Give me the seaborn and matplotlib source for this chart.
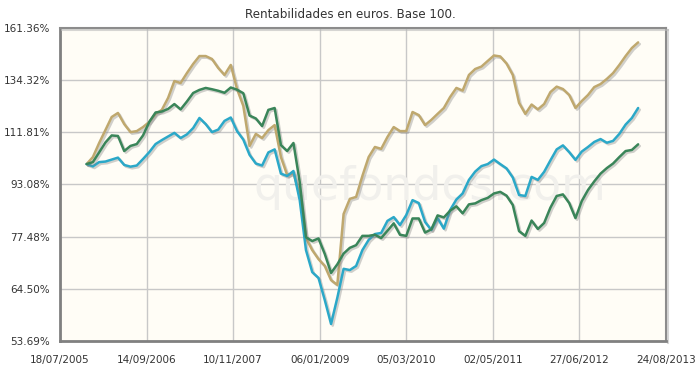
import numpy as np
import pandas as pd
import matplotlib
matplotlib.use("Agg")
import matplotlib.pyplot as plt
import matplotlib.patheffects as pe
from matplotlib.ticker import FixedLocator, FixedFormatter, NullLocator
import seaborn as sns

# ------------------------------------------------------------
# Datos (base 100, aprox. mensual nov-2005 .. abr-2013)
# ------------------------------------------------------------
fechas = pd.date_range("2005-11-25", "2013-04-10", periods=89)

serie_oro = [
    100.0, 102.5, 107.7, 112.7, 118.0, 119.7, 115.1, 111.9, 112.3, 113.9,
    116.0, 119.3, 121.0, 126.2, 133.9, 133.0, 137.7, 142.2, 146.2, 146.2,
    144.7, 140.2, 136.8, 141.7, 130.2, 122.7, 106.6, 111.2, 109.6, 112.7,
    114.7, 102.5, 96.2, 96.9, 89.7, 77.1, 73.9, 71.6, 69.9, 66.5,
    65.4, 83.9, 88.5, 89.1, 95.9, 102.5, 106.2, 105.5, 110.0, 113.9,
    112.3, 112.3, 120.1, 118.8, 114.7, 116.8, 119.3, 121.8, 126.6, 130.7,
    129.5, 136.8, 139.7, 140.9, 143.7, 146.5, 146.0, 142.4, 136.8, 124.0,
    119.3, 123.3, 121.2, 123.5, 128.8, 131.3, 130.2, 127.5, 121.8, 124.8,
    127.5, 131.1, 132.5, 134.9, 137.7, 141.7, 146.2, 150.4, 153.4,
]

serie_azul = [
    100.0, 99.2, 100.7, 100.9, 101.6, 102.3, 99.7, 99.1, 99.5, 101.8,
    104.3, 107.3, 108.8, 110.2, 111.6, 109.6, 111.0, 113.5, 117.6, 115.1,
    111.9, 112.9, 116.4, 117.8, 112.3, 109.0, 103.3, 100.2, 99.5, 104.2,
    105.3, 96.7, 95.9, 97.6, 88.1, 73.9, 68.4, 67.0, 62.0, 57.0,
    62.5, 69.2, 68.9, 69.9, 73.9, 76.6, 78.2, 78.5, 81.9, 83.0,
    80.7, 83.6, 88.1, 87.2, 81.6, 79.3, 82.7, 79.7, 85.1, 88.3,
    90.2, 94.6, 97.4, 99.3, 100.0, 101.6, 100.0, 98.5, 95.4, 89.7,
    89.4, 95.6, 94.6, 97.3, 101.3, 105.3, 106.8, 104.3, 101.5, 104.5,
    106.2, 108.1, 109.2, 107.8, 108.5, 111.2, 114.9, 117.6, 121.8,
]

serie_verde = [
    100.0, 100.7, 104.2, 107.9, 110.6, 110.4, 104.7, 106.6, 107.3, 110.6,
    116.0, 119.9, 120.3, 121.4, 123.5, 121.2, 124.6, 128.4, 129.8, 130.7,
    130.1, 129.4, 128.5, 130.9, 129.9, 128.3, 118.6, 117.4, 114.3, 121.0,
    121.8, 106.9, 104.7, 107.7, 93.9, 77.3, 76.3, 77.0, 72.9, 68.2,
    70.3, 73.0, 74.5, 75.2, 77.7, 77.7, 78.0, 77.1, 79.1, 81.2,
    78.0, 77.7, 82.6, 82.6, 78.6, 79.5, 83.5, 82.9, 84.9, 86.2,
    84.1, 86.8, 87.1, 88.1, 88.8, 90.2, 90.7, 89.5, 86.6, 79.0,
    77.7, 82.0, 79.6, 81.3, 85.8, 89.4, 89.9, 87.2, 82.7, 87.8,
    91.3, 94.1, 96.7, 98.6, 100.2, 102.5, 104.7, 105.1, 107.2,
]

y_ticks = [53.69, 64.50, 77.48, 93.08, 111.81, 134.32, 161.36]
x_ticks = ["18/07/2005", "14/09/2006", "10/11/2007", "06/01/2009",
           "05/03/2010", "02/05/2011", "27/06/2012", "24/08/2013"]

df = pd.DataFrame({"fecha": fechas, "oro": serie_oro,
                   "azul": serie_azul, "verde": serie_verde})
largo = df.melt(id_vars="fecha", var_name="serie", value_name="valor")

colores = {"oro": "#BFA86E", "azul": "#2BA8C8", "verde": "#3A8559"}

# ------------------------------------------------------------
# Figura
# ------------------------------------------------------------
sns.set_style("white")
plt.rcParams["font.family"] = ["DejaVu Sans"]

fig = plt.figure(figsize=(7.0, 3.77), dpi=100)
ax = fig.add_axes([60 / 700, 36 / 377, 606 / 700, 313 / 377])
ax.set_facecolor("#FFFDF6")

sns.lineplot(data=largo, x="fecha", y="valor", hue="serie",
             hue_order=["oro", "azul", "verde"], palette=colores,
             linewidth=1.8, legend=False, ax=ax, zorder=3)

sombra = [pe.SimpleLineShadow(offset=(1.2, -1.2), shadow_color="#7a7a7a", alpha=0.35),
          pe.Normal()]
for ln in ax.get_lines():
    ln.set_path_effects(sombra)
    ln.set_solid_joinstyle("round")

# eje Y logarítmico (ticks equiespaciados)
ax.set_yscale("log")
ax.set_ylim(y_ticks[0], y_ticks[-1])
ax.yaxis.set_major_locator(FixedLocator(y_ticks))
ax.yaxis.set_major_formatter(FixedFormatter([f"{v:.2f}%" for v in y_ticks]))
ax.yaxis.set_minor_locator(NullLocator())

# eje X con fechas
xt = pd.to_datetime(x_ticks, format="%d/%m/%Y")
ax.set_xlim(xt[0], xt[-1])
ax.set_xticks(xt)
ax.set_xticklabels(x_ticks)

ax.grid(True, color="#C8C8C8", linewidth=1.0, zorder=1)
ax.set_axisbelow(True)
ax.set_xlabel("")
ax.set_ylabel("")

ax.tick_params(axis="both", labelsize=7.5, colors="#555555", labelcolor="#333333",
               length=4, width=1, pad=3)
ax.tick_params(axis="x", pad=6)

for lado in ["left", "bottom"]:
    ax.spines[lado].set_color("#808080")
    ax.spines[lado].set_linewidth(2.0)
for lado in ["top", "right"]:
    ax.spines[lado].set_color("#8c8c8c")
    ax.spines[lado].set_linewidth(1.5)
    ax.spines[lado].set_path_effects(
        [pe.SimpleLineShadow(offset=(1.5, -1.5), shadow_color="#bbbbbb", alpha=0.6),
         pe.Normal()])

# marca de agua
ax.text(0.61, 0.49, "quefondos.com", transform=ax.transAxes, fontsize=33,
        color="#F1F0EC", ha="center", va="center", zorder=2)

fig.text(0.5, 1 - 14 / 377, "Rentabilidades en euros. Base 100.",
         ha="center", va="center", fontsize=8.6, color="#333333")

fig.savefig("out.png", dpi=100, facecolor="white")
